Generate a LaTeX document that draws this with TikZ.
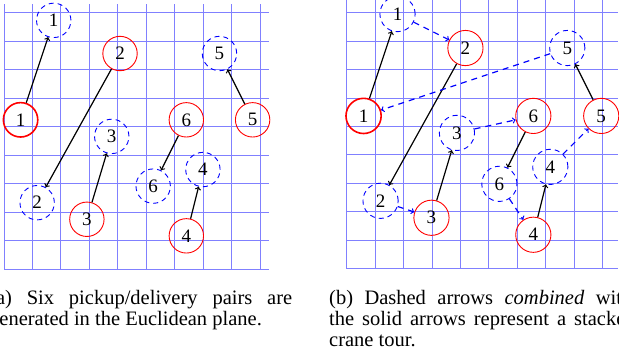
\documentclass[tikz,border=0pt]{standalone}
\usepackage{fontspec}
\setmainfont{Liberation Serif}
\tikzset{
  pickup/.style={circle,draw=red,line width=0.9pt,inner sep=0pt,minimum size=34.4pt,font=\fontsize{19}{19}\selectfont},
  delivery/.style={circle,draw=blue,line width=0.9pt,dash pattern=on 5pt off 4pt,inner sep=0pt,minimum size=34.4pt,font=\fontsize{19}{19}\selectfont},
  job/.style={->,black,line width=1.2pt},
  tour/.style={->,blue,line width=1.2pt,dash pattern=on 6pt off 5pt},
  gridline/.style={blue!50,line width=0.9pt},
  caption/.style={anchor=north west,text width=303pt,align=justify,inner sep=0pt,font=\fontsize{20.5}{21}\selectfont}
}
\begin{document}
\begin{tikzpicture}[x=1pt,y=1pt]
\clip (0,0) rectangle (619,353);
\begin{scope}[shift={(4pt,84pt)},x=33.15pt,y=33.15pt]
\draw[gridline] (0,0) grid (8,8);
\node[pickup,line width=1.6pt] (p1a) at (0.5,4.5) {1};
\node[delivery] (d1a) at (1.5,7.5) {1};
\node[pickup] (p2a) at (3.5,6.5) {2};
\node[delivery] (d2a) at (1,2) {2};
\node[pickup] (p3a) at (2.5,1.5) {3};
\node[delivery] (d3a) at (3.25,4) {3};
\node[pickup] (p4a) at (5.5,1) {4};
\node[delivery] (d4a) at (6,3) {4};
\node[pickup] (p5a) at (7.5,4.5) {5};
\node[delivery] (d5a) at (6.5,6.5) {5};
\node[pickup] (p6a) at (5.5,4.5) {6};
\node[delivery] (d6a) at (4.5,2.5) {6};
\draw[job] (p1a) -- (d1a);
\draw[job] (p2a) -- (d2a);
\draw[job] (p3a) -- (d3a);
\draw[job] (p4a) -- (d4a);
\draw[job] (p5a) -- (d5a);
\draw[job] (p6a) -- (d6a);
\end{scope}
\begin{scope}[shift={(346.6pt,84.3pt)},x=33.95pt,y=33.95pt,
  pickup/.append style={minimum size=35.2pt},delivery/.append style={minimum size=35.2pt}]
\draw[gridline] (0,0) grid (8,8);
\node[pickup,line width=1.6pt] (p1b) at (0.5,4.5) {1};
\node[delivery] (d1b) at (1.5,7.5) {1};
\node[pickup] (p2b) at (3.5,6.5) {2};
\node[delivery] (d2b) at (1,2) {2};
\node[pickup] (p3b) at (2.5,1.5) {3};
\node[delivery] (d3b) at (3.25,4) {3};
\node[pickup] (p4b) at (5.5,1) {4};
\node[delivery] (d4b) at (6,3) {4};
\node[pickup] (p5b) at (7.5,4.5) {5};
\node[delivery] (d5b) at (6.5,6.5) {5};
\node[pickup] (p6b) at (5.5,4.5) {6};
\node[delivery] (d6b) at (4.5,2.5) {6};
\draw[job] (p1b) -- (d1b);
\draw[job] (p2b) -- (d2b);
\draw[job] (p3b) -- (d3b);
\draw[job] (p4b) -- (d4b);
\draw[job] (p5b) -- (d5b);
\draw[job] (p6b) -- (d6b);
\draw[tour] (d1b) -- (p2b);
\draw[tour] (d2b) -- (p3b);
\draw[tour] (d3b) -- (p6b);
\draw[tour] (d6b) -- (p4b);
\draw[tour] (d4b) -- (p5b);
\draw[tour] (d5b) -- (p1b);
\end{scope}
\node[caption] (capa) at (-11,63) {(a) Six pickup/delivery pairs are\linebreak generated in the Euclidean plane.};
\node[caption] (capb) at (329,63) {(b) Dashed arrows \emph{combined} with\linebreak the solid arrows represent a stacker\linebreak crane tour.};
\end{tikzpicture}
\end{document}
